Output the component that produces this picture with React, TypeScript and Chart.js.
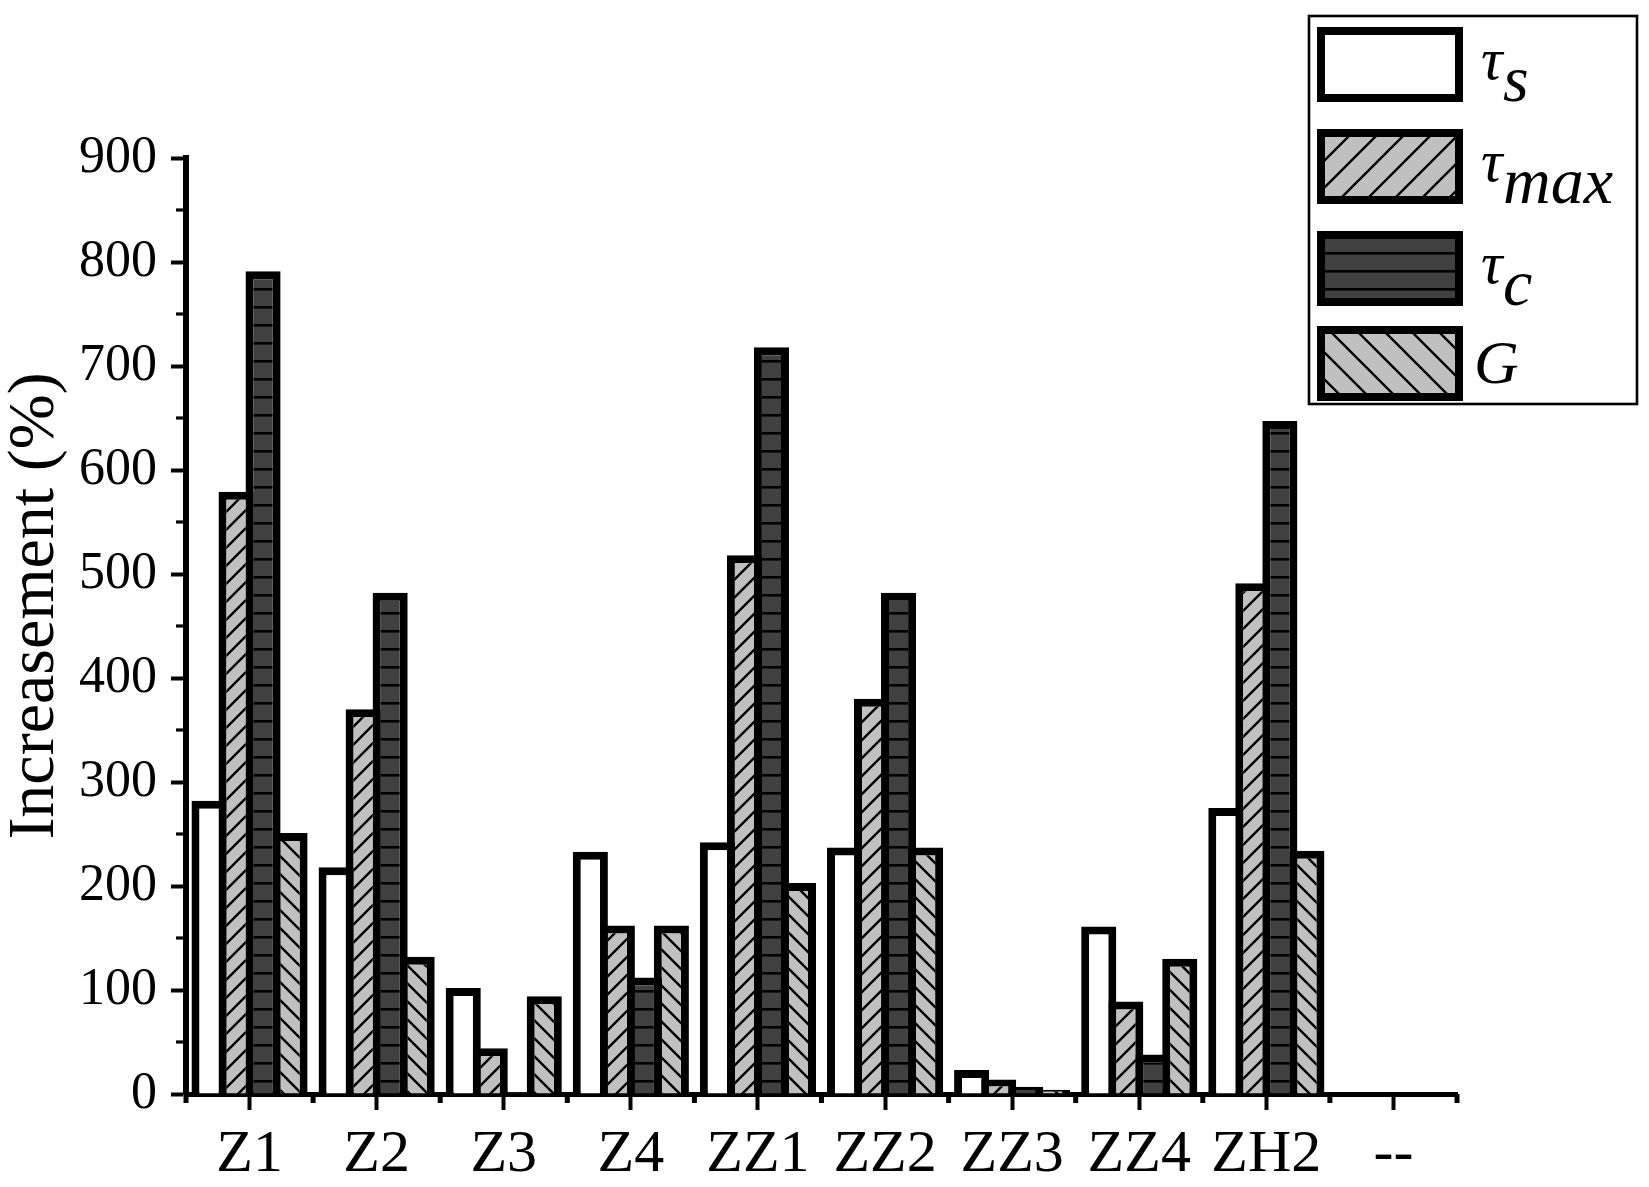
import React, { useEffect, useRef } from 'react';
import { Chart, registerables } from 'chart.js';

Chart.register(...registerables);

// --- data ---
const categories = ['Z1', 'Z2', 'Z3', 'Z4', 'ZZ1', 'ZZ2', 'ZZ3', 'ZZ4', 'ZH2', '--'];
const tauS = [282, 218, 102, 233, 242, 237, 23, 161, 275, null];
const tauMax = [579, 370, 44, 162, 518, 380, 14, 89, 491, null];
const tauC = [791, 482, 2, 112, 718, 482, 7, 38, 647, null];
const shearG = [251, 132, 94, 162, 203, 237, 4, 130, 234, null];
const minorY = [50, 150, 250, 350, 450, 550, 650, 750, 850];

const yTitle = 'Increasement (%)';
const legendMain = ['τ', 'τ', 'τ', 'G'];
const legendSub = ['s', 'max', 'c', ''];

const W = 1649;
const H = 1187;
const SERIF = "'Liberation Serif', 'Times New Roman', serif";
const GRAY = '#c0c0c0';
const DARK = '#404040';

// hatch helpers
function diagPattern(ctx, size, dir) {
  const c = document.createElement('canvas');
  c.width = size;
  c.height = size;
  const g = c.getContext('2d');
  g.fillStyle = GRAY;
  g.fillRect(0, 0, size, size);
  g.strokeStyle = '#000';
  g.lineWidth = 2.4;
  g.beginPath();
  if (dir === '/') {
    g.moveTo(-2, size + 2); g.lineTo(size + 2, -2);
    g.moveTo(-2, 2); g.lineTo(2, -2);
    g.moveTo(size - 2, size + 2); g.lineTo(size + 2, size - 2);
  } else {
    g.moveTo(-2, -2); g.lineTo(size + 2, size + 2);
    g.moveTo(size - 2, -2); g.lineTo(size + 2, 2);
    g.moveTo(-2, size - 2); g.lineTo(2, size + 2);
  }
  g.stroke();
  return ctx.createPattern(c, 'repeat');
}

function horizPattern(ctx, size) {
  const c = document.createElement('canvas');
  c.width = 8;
  c.height = size;
  const g = c.getContext('2d');
  g.fillStyle = DARK;
  g.fillRect(0, 0, 8, size);
  g.fillStyle = '#000';
  g.fillRect(0, 0, 8, 2.6);
  return ctx.createPattern(c, 'repeat');
}

export default function App() {
  const canvasRef = useRef(null);
  const chartRef = useRef(null);

  useEffect(() => {
    if (!canvasRef.current) return;
    if (chartRef.current) chartRef.current.destroy();
    const ctx = canvasRef.current.getContext('2d');

    const fills = ['#ffffff', diagPattern(ctx, 18, '/'), horizPattern(ctx, 18), diagPattern(ctx, 18, '\\')];
    const legendFills = ['#ffffff', diagPattern(ctx, 27, '/'), horizPattern(ctx, 18), diagPattern(ctx, 27, '\\')];
    const series = [tauS, tauMax, tauC, shearG];

    // minor ticks, axis title and framed legend
    const extras = {
      id: 'extras',
      afterDraw(chart) {
        const c = chart.ctx;
        const { x, y } = chart.scales;
        const area = chart.chartArea;
        c.save();
        c.fillStyle = '#000';
        minorY.forEach((v) => {
          const py = y.getPixelForValue(v);
          c.fillRect(area.left - 10, py - 1.6, 10, 3.2);
        });
        for (let i = 0; i <= categories.length; i++) {
          const px = x.getPixelForValue(i - 0.5);
          c.fillRect(px - 2.5, area.bottom, 5, 9);
        }

        // y title
        c.save();
        c.translate(53, 606);
        c.rotate(-Math.PI / 2);
        c.font = `66px ${SERIF}`;
        c.textAlign = 'center';
        c.textBaseline = 'alphabetic';
        c.fillText(yTitle, 0, 0);
        c.restore();

        // legend box
        const bx = 1309, by = 16, bw = 328, bh = 388;
        c.lineWidth = 2.6;
        c.strokeStyle = '#000';
        c.strokeRect(bx, by, bw, bh);
        const tops = [27, 129, 231, 326];
        tops.forEach((t, i) => {
          c.fillStyle = '#000';
          c.fillRect(1317, t, 146, 75);
          c.fillStyle = legendFills[i];
          c.fillRect(1325, t + 8, 130, 59);
          c.fillStyle = '#000';
          c.textAlign = 'left';
          c.textBaseline = 'alphabetic';
          if (legendSub[i]) {
            c.font = `italic 60px ${SERIF}`;
            c.fillText(legendMain[i], 1481, t + 52);
            c.font = `italic 66px ${SERIF}`;
            c.fillText(legendSub[i], 1503, t + 74);
          } else {
            c.font = `italic 62px ${SERIF}`;
            c.fillText(legendMain[i], 1474, t + 57);
          }
        });
        c.restore();
      },
    };

    chartRef.current = new Chart(ctx, {
      type: 'bar',
      data: {
        labels: categories,
        datasets: series.map((d, i) => ({
          label: ['τs', 'τmax', 'τc', 'G'][i],
          data: d,
          backgroundColor: fills[i],
          borderColor: '#000',
          borderWidth: 8,
          borderSkipped: 'start',
          categoryPercentage: 0.85,
          barPercentage: 1.3,
        })),
      },
      options: {
        responsive: false,
        animation: false,
        devicePixelRatio: 1,
        layout: { padding: { left: 0, top: 158, right: W - 1457, bottom: 0 } },
        plugins: { legend: { display: false }, tooltip: { enabled: false } },
        scales: {
          x: {
            offset: true,
            grid: { offset: false, drawOnChartArea: false, drawTicks: true, tickLength: 16, tickWidth: 4, tickColor: '#000' },
            border: { display: true, width: 5, color: '#000' },
            ticks: { color: '#000', font: { family: SERIF, size: 60 }, padding: 9, maxRotation: 0, autoSkip: false },
            afterFit: (s) => { s.height = H - 1094; },
          },
          y: {
            min: 0,
            max: 900,
            grid: { drawOnChartArea: false, drawTicks: true, tickLength: 15, tickWidth: 4, tickColor: '#000' },
            border: { display: true, width: 6, color: '#000' },
            ticks: { stepSize: 100, color: '#000', font: { family: SERIF, size: 52 }, padding: 14 },
            title: { display: false },
            afterFit: (s) => { s.width = 186; },
          },
        },
      },
      plugins: [extras],
    });

    return () => {
      if (chartRef.current) chartRef.current.destroy();
      chartRef.current = null;
    };
  }, []);

  return (
    <div style={{ position: 'fixed', left: 0, top: 0, width: W, height: H, background: '#fff' }}>
      <canvas ref={canvasRef} width={W} height={H} style={{ width: W, height: H, display: 'block' }} />
    </div>
  );
}
